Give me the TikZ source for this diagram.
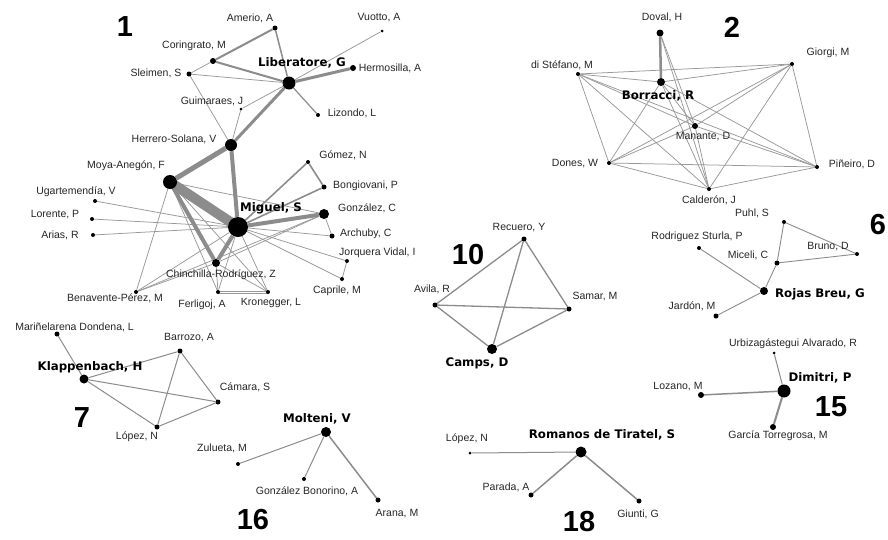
\documentclass[tikz,border=0pt]{standalone}
\usepackage{fontspec}
\setmainfont{Liberation Sans}
\newfontfamily\bfam{DejaVu Sans}
\usetikzlibrary{backgrounds}
\definecolor{edgec}{gray}{0.55}
\definecolor{edgel}{gray}{0.6}
\begin{document}
\begin{tikzpicture}[x=1pt,y=-1pt,
 vtx/.style={circle,fill=black,inner sep=0pt,minimum size=#1},
 vtx/.default=4pt,
 lab/.style={font=\fontsize{10.5}{12}\selectfont,text=black!85,inner sep=0pt},
 blab/.style={font=\bfam\bfseries\fontsize{11.8}{14}\selectfont,inner sep=0pt},
 num/.style={font=\bfseries\fontsize{29}{30}\selectfont,inner sep=0pt},
 e1/.style={draw=edgel,line width=0.75pt},
 e3/.style={draw=edgec,line width=#1},
]
\useasboundingbox (0,0) rectangle (888,539);

% ---------- cluster 1 ----------
\node[vtx=5pt] (amerio) at (275,28) {};
\node[vtx=3pt] (vuotto) at (382,31) {};
\node[vtx=6pt] (coring) at (213,61) {};
\node[vtx=5pt] (sleimen) at (189,74) {};
\node[vtx=13pt] (liber) at (289,83) {};
\node[vtx=6pt] (hermo) at (353,68) {};
\node[vtx=3pt] (guima) at (241,109) {};
\node[vtx=4pt] (lizondo) at (318,115) {};
\node[vtx=12pt] (herrero) at (231,145) {};
\node[vtx=4pt] (gomez) at (308,162) {};
\node[vtx=14pt] (moya) at (170,182) {};
\node[vtx=4pt] (ugarte) at (95,201) {};
\node[vtx=4pt] (lorente) at (92,219) {};
\node[vtx=4pt] (arias) at (93,235) {};
\node[vtx=20pt] (miguel) at (238,227) {};
\node[vtx=5pt] (bongio) at (324,187) {};
\node[vtx=10pt] (gonzalez) at (324,214) {};
\node[vtx=5pt] (archuby) at (332,236) {};
\node[vtx=4pt] (jorquera) at (347,261) {};
\node[vtx=4pt] (caprile) at (342,279) {};
\node[vtx=8pt] (chinchilla) at (216,263) {};
\node[vtx=4pt] (benavente) at (136,292) {};
\node[vtx=4pt] (ferligoj) at (218,292) {};
\node[vtx=4pt] (kronegger) at (268,292) {};

\node[num] (n1) at (125,27) {1};
\node[lab] (l-amerio) at (250,18) {Amerio, A};
\node[lab] (l-vuotto) at (379,18) {Vuotto, A};
\node[lab] (l-coring) at (194,46) {Coringrato, M};
\node[lab] (l-sleimen) at (156,73) {Sleimen, S};
\node[blab] (l-liber) at (302,63) {Liberatore, G};
\node[lab] (l-hermo) at (390,68) {Hermosilla, A};
\node[lab] (l-guima) at (212,101) {Guimaraes, J};
\node[lab] (l-lizondo) at (352,113) {Lizondo, L};
\node[lab] (l-herrero) at (174,139) {Herrero-Solana, V};
\node[lab] (l-gomez) at (343,155) {Gómez, N};
\node[lab] (l-moya) at (126,166) {Moya-Anegón, F};
\node[lab] (l-ugarte) at (76,192) {Ugartemendía, V};
\node[lab] (l-lorente) at (55,215) {Lorente, P};
\node[lab] (l-arias) at (60,235) {Arias, R};
\node[blab] (l-miguel) at (271,208) {Miguel, S};
\node[lab,anchor=west] (l-bongio) at (333,186) {Bongiovani, P};
\node[lab,anchor=west] (l-gonzalez) at (338,208) {González, C};
\node[lab,anchor=west] (l-archuby) at (340,234) {Archuby, C};
\node[lab,anchor=west] (l-jorquera) at (339,253) {Jorquera Vidal, I};
\node[lab] (l-caprile) at (337,291) {Caprile, M};
\node[lab] (l-chinchilla) at (221,275) {Chinchilla-Rodríguez, Z};
\node[lab] (l-benavente) at (115,298) {Benavente-Pérez, M};
\node[lab] (l-ferligoj) at (202,305) {Ferligoj, A};
\node[lab] (l-kronegger) at (271,303) {Kronegger, L};

% ---------- cluster 2 ----------
\node[vtx=7pt] (doval) at (660,33) {};
\node[vtx=4pt] (distef) at (578,74) {};
\node[vtx=4pt] (giorgi) at (792,64) {};
\node[vtx=8pt] (borracci) at (661,82) {};
\node[vtx=6pt] (manante) at (695,126) {};
\node[vtx=4pt] (dones) at (609,163) {};
\node[vtx=4pt] (pineiro) at (817,167) {};
\node[vtx=4pt] (calderon) at (709,189) {};

\node[num] (n2) at (732,27) {2};
\node[lab] (l-doval) at (662,17) {Doval, H};
\node[lab] (l-distef) at (562,65) {di Stéfano, M};
\node[lab] (l-giorgi) at (828,53) {Giorgi, M};
\node[blab] (l-borracci) at (658,96) {Borracci, R};
\node[lab] (l-manante) at (703,137) {Manante, D};
\node[lab] (l-dones) at (575,164) {Dones, W};
\node[lab] (l-pineiro) at (852,164) {Piñeiro, D};
\node[lab] (l-calderon) at (709,200) {Calderón, J};

% ---------- cluster 10 ----------
\node[vtx=5pt] (recuero) at (524,239) {};
\node[vtx=5pt] (avila) at (435,305) {};
\node[vtx=5pt] (samar) at (569,309) {};
\node[vtx=10pt] (camps) at (492,349) {};
\node[num] (n10) at (468,255) {10};
\node[lab] (l-recuero) at (519,228) {Recuero, Y};
\node[lab] (l-avila) at (432,289) {Avila, R};
\node[lab] (l-samar) at (595,296) {Samar, M};
\node[blab] (l-camps) at (477,363) {Camps, D};

% ---------- cluster 6 ----------
\node[vtx=4pt] (puhl) at (784,222) {};
\node[vtx=4pt] (rodst) at (699,248) {};
\node[vtx=4pt] (bruno) at (857,254) {};
\node[vtx=5pt] (miceli) at (777,263) {};
\node[vtx=8pt] (rojas) at (764,291) {};
\node[vtx=5pt] (jardon) at (716,316) {};
\node[num] (n6) at (878,225) {6};
\node[lab] (l-puhl) at (752,213) {Puhl, S};
\node[lab] (l-rodst) at (697,237) {Rodriguez Sturla, P};
\node[lab] (l-bruno) at (828,247) {Bruno, D};
\node[lab] (l-miceli) at (748,255) {Miceli, C};
\node[blab] (l-rojas) at (820,294) {Rojas Breu, G};
\node[lab] (l-jardon) at (692,306) {Jardón, M};

% ---------- cluster 15 ----------
\node[vtx=3pt] (urbiz) at (774,353) {};
\node[vtx=13pt] (dimitri) at (784,391) {};
\node[vtx=6pt] (lozano) at (701,395) {};
\node[vtx=6pt] (garcia) at (773,427) {};
\node[num] (n15) at (831,407) {15};
\node[lab] (l-urbiz) at (793,344) {Urbizagástegui Alvarado, R};
\node[blab] (l-dimitri) at (820,378) {Dimitri, P};
\node[lab] (l-lozano) at (678,387) {Lozano, M};
\node[lab] (l-garcia) at (778,436) {García Torregrosa, M};

% ---------- cluster 18 ----------
\node[vtx=3pt] (lopezb) at (470,453) {};
\node[vtx=11pt] (romanos) at (581,452) {};
\node[vtx=5pt] (parada) at (531,495) {};
\node[vtx=5pt] (giunti) at (639,501) {};
\node[num] (n18) at (579,522) {18};
\node[lab] (l-lopezb) at (467,439) {López, N};
\node[blab] (l-romanos) at (602,435) {Romanos de Tiratel, S};
\node[lab] (l-parada) at (506,487) {Parada, A};
\node[lab] (l-giunti) at (638,514) {Giunti, G};

% ---------- cluster 7 ----------
\node[vtx=5pt] (marin) at (57,334) {};
\node[vtx=5pt] (barrozo) at (180,351) {};
\node[vtx=9pt] (klapp) at (84,379) {};
\node[vtx=5pt] (camara) at (218,402) {};
\node[vtx=5pt] (lopeza) at (157,427) {};
\node[num] (n7) at (82,418) {7};
\node[lab,anchor=east] (l-marin) at (134,327) {Mariñelarena Dondena, L};
\node[lab] (l-barrozo) at (189,338) {Barrozo, A};
\node[blab] (l-klapp) at (90,367) {Klappenbach, H};
\node[lab] (l-camara) at (245,387) {Cámara, S};
\node[lab] (l-lopeza) at (137,437) {López, N};

% ---------- cluster 16 ----------
\node[vtx=10pt] (molteni) at (326,432) {};
\node[vtx=4pt] (zulueta) at (238,464) {};
\node[vtx=4pt] (gbonor) at (304,479) {};
\node[vtx=5pt] (arana) at (378,500) {};
\node[num] (n16) at (253,520) {16};
\node[blab] (l-molteni) at (317,419) {Molteni, V};
\node[lab] (l-zulueta) at (222,448) {Zulueta, M};
\node[lab] (l-gbonor) at (307,491) {González Bonorino, A};
\node[lab] (l-arana) at (397,514) {Arana, M};

\begin{pgfonlayer}{background}
\fill[white] (0,0) rectangle (888,539);
% cluster 1 thin
\foreach \a/\b in {coring/sleimen,sleimen/liber,sleimen/herrero,vuotto/liber,guima/liber,guima/herrero,
  moya/benavente,moya/ferligoj,moya/kronegger,moya/gonzalez,gonzalez/archuby,miguel/archuby,
  miguel/jorquera,miguel/caprile,jorquera/caprile,miguel/ugarte,miguel/lorente,miguel/arias,
  miguel/benavente,miguel/ferligoj,miguel/kronegger,benavente/gonzalez,benavente/chinchilla,
  chinchilla/gonzalez,chinchilla/kronegger,chinchilla/ferligoj}
  \draw[e1] (\a) -- (\b);
\draw[e1] ([yshift=-1pt]ferligoj.center) -- ([yshift=-1pt]kronegger.center);
\draw[e1] ([yshift=1pt]ferligoj.center) -- ([yshift=1pt]kronegger.center);
\draw[e3=1.2pt] (lizondo) -- (liber);
\draw[e3=1.5pt] (amerio) -- (liber);
\draw[e3=2pt] (amerio) -- (coring);
\draw[e3=2pt] (coring) -- (liber);
\draw[e3=1.6pt] (miguel) -- (gomez);
\draw[e3=1.6pt] (gomez) -- (bongio);
\draw[e3=1.6pt] (miguel) -- (bongio);
\draw[e3=3pt] (hermo) -- (liber);
\draw[e3=3pt] (liber) -- (herrero);
\draw[e3=5pt] (herrero) -- (moya);
\draw[e3=4pt] (herrero) -- (miguel);
\draw[e3=10pt] (moya.center) -- (miguel.center);
\draw[e3=4pt] (moya) -- (chinchilla);
\draw[e3=4pt] (miguel) -- (chinchilla);
\draw[e3=4pt] (miguel) -- (gonzalez);
% cluster 2
\foreach \a/\b in {distef/giorgi,distef/borracci,distef/manante,distef/dones,distef/pineiro,distef/calderon,
  giorgi/borracci,giorgi/manante,giorgi/dones,giorgi/pineiro,giorgi/calderon,
  borracci/manante,borracci/dones,borracci/pineiro,borracci/calderon,
  manante/dones,manante/pineiro,manante/calderon,
  dones/pineiro,dones/calderon,pineiro/calderon,doval/manante,doval/calderon}
  \draw[e1] (\a) -- (\b);
\draw[e3=2.5pt] (doval) -- (borracci);
% cluster 10
\foreach \a/\b in {recuero/avila,recuero/samar,recuero/camps,avila/samar,avila/camps,samar/camps}
  \draw[e3=1.3pt] (\a) -- (\b);
% cluster 6
\foreach \a/\b in {puhl/bruno,puhl/miceli,miceli/bruno,miceli/rojas,rodst/rojas,rojas/jardon}
  \draw[e3=0.9pt] (\a) -- (\b);
% cluster 15
\draw[e3=1pt] (dimitri) -- (urbiz);
\draw[e3=1.5pt] (dimitri) -- (lozano);
\draw[e3=2pt] (dimitri) -- (garcia);
% cluster 18
\draw[e3=1pt] (romanos) -- (lopezb);
\draw[e3=1.5pt] (romanos) -- (parada);
\draw[e3=1.5pt] (romanos) -- (giunti);
% cluster 7
\foreach \a/\b in {marin/klapp,klapp/barrozo,klapp/camara,klapp/lopeza,barrozo/camara,barrozo/lopeza,lopeza/camara}
  \draw[e3=1pt] (\a) -- (\b);
% cluster 16
\draw[e3=1pt] (molteni) -- (zulueta);
\draw[e3=1pt] (molteni) -- (gbonor);
\draw[e3=1.5pt] (molteni) -- (arana);
\end{pgfonlayer}
\end{tikzpicture}
\end{document}
